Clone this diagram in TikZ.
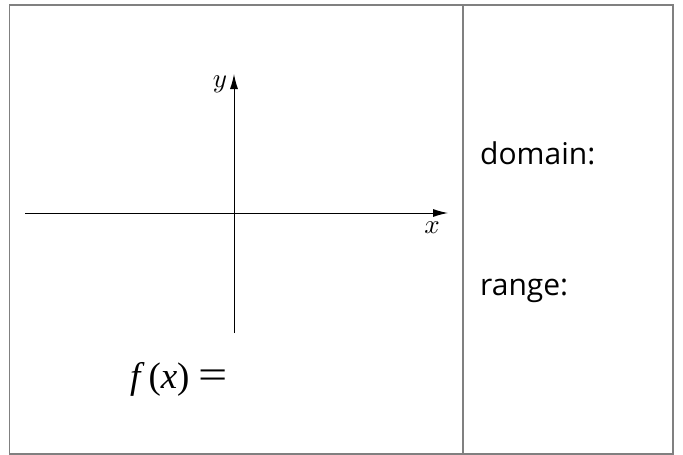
\documentclass[tikz,border=0pt]{standalone}
\usepackage{fontspec}
\setmainfont{Open Sans}
\newfontfamily\timesfont{Liberation Serif}
\usetikzlibrary{arrows.meta}
\begin{document}
\begin{tikzpicture}[x=1pt,y=-1pt,
  frame/.style={draw=black!50,line width=1.3pt},
  axis/.style={draw=black,line width=1pt,-{Latex[length=15pt,width=8pt]}},
  lbl/.style={inner sep=0pt,font=\fontsize{30}{36}\selectfont,anchor=base west},
  axlbl/.style={inner sep=0pt}]
\useasboundingbox (0,0) rectangle (683,455);
\draw[frame] (9.5,5) rectangle (673,454);
\draw[frame] (463,5) -- (463,454);
\coordinate (xl) at (25,213);
\coordinate (xr) at (448,213);
\coordinate (yb) at (234,333);
\coordinate (yt) at (234,74);
\draw[axis] (xl) -- (xr);
\draw[axis] (yb) -- (yt);
\node[axlbl] (ylab) at (220,84) {\scalebox{2.7}{$y$}};
\node[axlbl] (xlab) at (432,228) {\scalebox{2.7}{$x$}};
\node[inner sep=0pt,font=\fontsize{37}{44}\selectfont\timesfont] (fx) at (179,379) {\itshape f\kern8pt\upshape(\itshape x\/\upshape)\kern9pt\scalebox{1.4}[1.1]{=}};
\node[lbl] (dom) at (480,164) {domain:};
\node[lbl] (rng) at (480,295) {range:};
\end{tikzpicture}
\end{document}
